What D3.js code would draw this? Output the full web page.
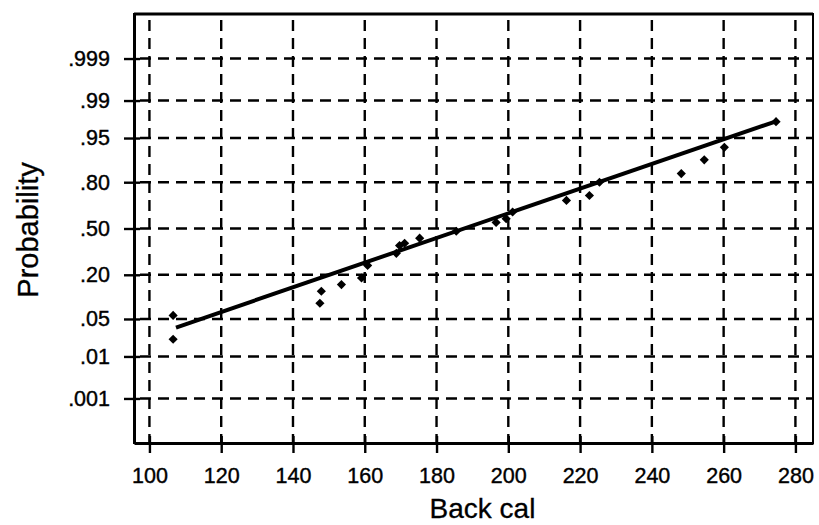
<!DOCTYPE html>
<html>
<head>
<meta charset="utf-8">
<script src="https://cdn.jsdelivr.net/npm/d3@7"></script>
<style>
  body { margin: 0; background: #fff; }
  text { font-family: Arial, "Liberation Sans", sans-serif; fill: #000; }
</style>
</head>
<body>
<script>
// observed values (Back cal) and their plotting probabilities
const backCal = [106.6, 106.6, 147.5, 147.9, 153.5, 159.1, 160.8, 168.8, 169.7, 171.1, 175.3,
                 185.5, 196.6, 199.4, 201.2, 216.2, 222.6, 225.4, 248.2, 254.6, 260.2, 274.6]
const prob = [0.057, 0.022, 0.087, 0.127, 0.154, 0.184, 0.251, 0.326, 0.378, 0.394, 0.43,
              0.48, 0.544, 0.571, 0.618, 0.695, 0.726, 0.80, 0.841, 0.894, 0.93, 0.974]
// fitted normal line
const fitMean = 187.7
const fitSd = 44.6
const fitRange = [107.4, 274.6]
const xTicks = [100, 120, 140, 160, 180, 200, 220, 240, 260, 280]
const pTicks = [0.001, 0.01, 0.05, 0.20, 0.50, 0.80, 0.95, 0.99, 0.999]
const pLabels = [".001", ".01", ".05", ".20", ".50", ".80", ".95", ".99", ".999"]

// inverse normal cdf (Acklam)
function probit(p) {
  const a = [-39.69683028665376, 220.9460984245205, -275.9285104469687, 138.3577518672690, -30.66479806614716, 2.506628277459239]
  const b = [-54.47609879822406, 161.5858368580409, -155.6989798598866, 66.80131188771972, -13.28068155288572]
  const c = [-0.007784894002430293, -0.3223964580411365, -2.400758277161838, -2.549732539343734, 4.374664141464968, 2.938163982698783]
  const d = [0.007784695709041462, 0.3224671290700398, 2.445134137142996, 3.754408661907416]
  const pl = 0.02425
  let q, r
  if (p < pl) {
    q = Math.sqrt(-2 * Math.log(p))
    return (((((c[0]*q+c[1])*q+c[2])*q+c[3])*q+c[4])*q+c[5]) / ((((d[0]*q+d[1])*q+d[2])*q+d[3])*q+1)
  } else if (p <= 1 - pl) {
    q = p - 0.5; r = q * q
    return (((((a[0]*r+a[1])*r+a[2])*r+a[3])*r+a[4])*r+a[5])*q / (((((b[0]*r+b[1])*r+b[2])*r+b[3])*r+b[4])*r+1)
  } else {
    q = Math.sqrt(-2 * Math.log(1 - p))
    return -(((((c[0]*q+c[1])*q+c[2])*q+c[3])*q+c[4])*q+c[5]) / ((((d[0]*q+d[1])*q+d[2])*q+d[3])*q+1)
  }
}

const width = 819, height = 525
const mLeft = 134, mRight = 813, mTop = 14, mBottom = 443

const svg = d3.select("body").append("svg")
  .attr("width", width)
  .attr("height", height)

const x = d3.scaleLinear().domain([95.7, 284.9]).range([mLeft, mRight])
const y = d3.scaleLinear().domain([-3.9, 3.9]).range([mBottom, mTop])

// grid
const grid = svg.append("g")
  .attr("stroke", "#000").attr("stroke-width", 2.4).attr("stroke-dasharray", "11,7")
grid.selectAll(".vg").data(xTicks).enter().append("line")
  .attr("x1", d => x(d)).attr("x2", d => x(d))
  .attr("y1", mTop + 6).attr("y2", mBottom)
grid.selectAll(".hg").data(pTicks).enter().append("line")
  .attr("x1", mLeft + 6).attr("x2", mRight)
  .attr("y1", d => y(probit(d))).attr("y2", d => y(probit(d)))

// frame
svg.append("rect")
  .attr("x", mLeft).attr("y", mTop)
  .attr("width", mRight - mLeft).attr("height", mBottom - mTop)
  .attr("fill", "none").attr("stroke", "#000").attr("stroke-width", 2)
svg.append("line")
  .attr("x1", mLeft).attr("x2", mRight).attr("y1", mTop).attr("y2", mTop)
  .attr("stroke", "#000").attr("stroke-width", 3)

// axes
const xAxis = svg.append("g")
  .attr("transform", `translate(0,${mBottom})`)
  .call(d3.axisBottom(x).tickValues(xTicks).tickSizeInner(10).tickSizeOuter(0).tickPadding(15))
xAxis.select(".domain").attr("stroke-width", 3)
xAxis.selectAll(".tick line").attr("stroke-width", 2.4).attr("y1", -7)
xAxis.selectAll("text").attr("font-size", 21.5).attr("stroke", "#000").attr("stroke-width", 0.4)

const yAxis = svg.append("g")
  .attr("transform", `translate(${mLeft},0)`)
  .call(d3.axisLeft(y).tickValues(pTicks.map(probit)).tickFormat((d, i) => pLabels[i])
    .tickSizeInner(10).tickSizeOuter(0).tickPadding(14))
yAxis.select(".domain").attr("stroke-width", 3)
yAxis.selectAll(".tick line").attr("stroke-width", 2.4).attr("x1", 6)
yAxis.selectAll("text").attr("font-size", 21.5).attr("stroke", "#000").attr("stroke-width", 0.4)

// fitted line
const line = d3.line().x(d => x(d)).y(d => y((d - fitMean) / fitSd))
svg.append("path")
  .datum(fitRange)
  .attr("d", line)
  .attr("fill", "none").attr("stroke", "#000").attr("stroke-width", 4)

// points
svg.selectAll(".pt").data(backCal).enter().append("path")
  .attr("class", "pt")
  .attr("d", d3.symbol().type(d3.symbolSquare).size(42))
  .attr("transform", (d, i) => `translate(${x(d)},${y(probit(prob[i]))}) rotate(45)`)
  .attr("fill", "#000")

// axis titles
svg.append("text")
  .attr("x", (mLeft + mRight) / 2 + 9).attr("y", 518)
  .attr("text-anchor", "middle").attr("font-size", 28)
  .attr("stroke", "#000").attr("stroke-width", 0.3)
  .text("Back cal")

svg.append("text")
  .attr("transform", "rotate(-90)")
  .attr("x", -230).attr("y", 38)
  .attr("text-anchor", "middle").attr("font-size", 29)
  .attr("stroke", "#000").attr("stroke-width", 0.3)
  .text("Probability")
</script>
</body>
</html>
